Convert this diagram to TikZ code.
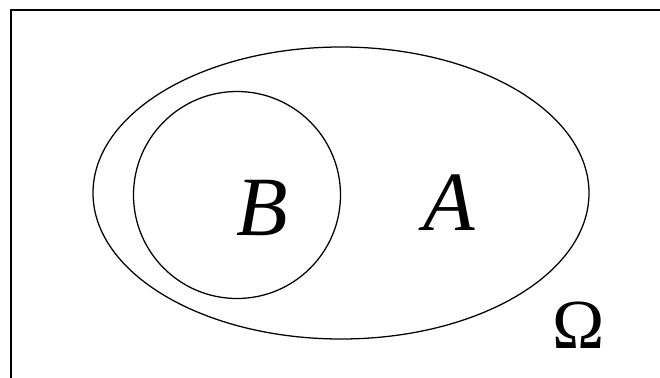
\documentclass[tikz,border=0pt]{standalone}
\usepackage{fontspec}
\setmainfont{Liberation Serif}
\newfontfamily\setfont{Liberation Serif}
\usepackage{tikz}

\begin{document}
\begin{tikzpicture}[x=0.025cm,y=-0.025cm]
  \tikzstyle{setline}=[draw, line width=0.9pt]
  \tikzstyle{setlabel}=[font=\setfont\fontsize{60}{60}\selectfont\itshape]
  \useasboundingbox (0,0) rectangle (660,377);
  \clip (0,0) rectangle (660,377);
  \draw[line width=1.6pt] (11,10) rectangle (700,420);
  \draw[setline] (341,193) ellipse [x radius=248, y radius=146];
  \draw[setline] (237,195) circle [radius=103.5];
  \node[setlabel] (labB) at (262,208) {B};
  \node[setlabel] (labA) at (449,203) {A};
  \node[font=\setfont\fontsize{50}{50}\selectfont] (labO) at (579,325) {Ω};
\end{tikzpicture}
\end{document}
